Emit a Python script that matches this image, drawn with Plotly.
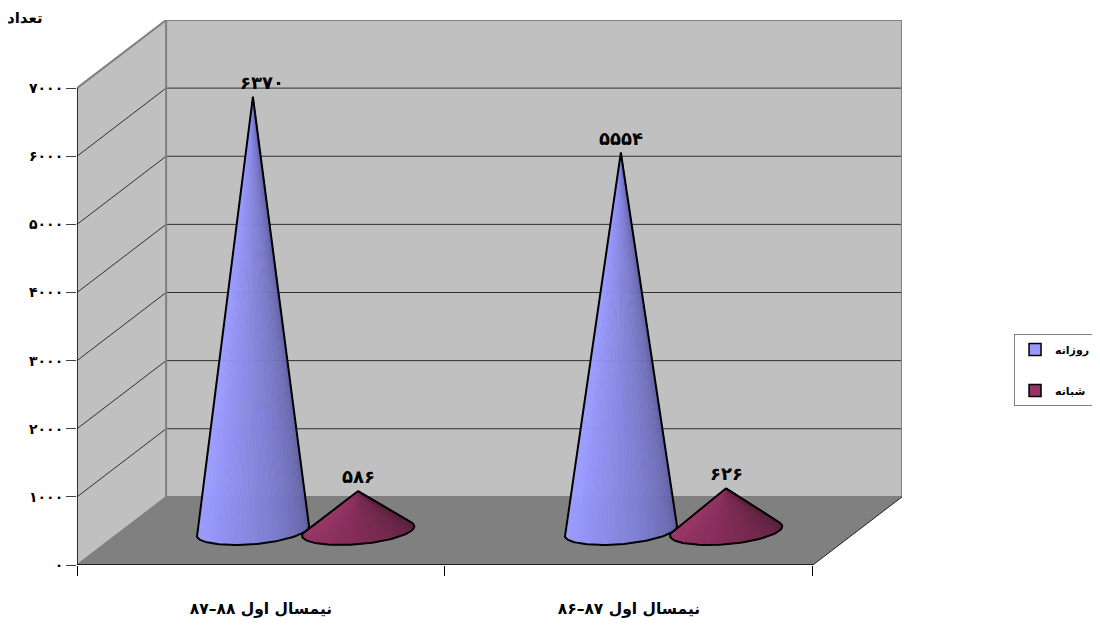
import math
import plotly.graph_objects as go

# ---- data ----
categories = ["نیمسال اول ۸۸–۸۷", "نیمسال اول ۸۷–۸۶"]
day_name = "روزانه"
night_name = "شبانه"
day_values = [6370, 5554]
night_values = [586, 626]
y_ticks = [0, 1000, 2000, 3000, 4000, 5000, 6000, 7000]
y_title = "تعداد"

FA = str.maketrans("0123456789", "۰۱۲۳۴۵۶۷۸۹")
def fa(n):
    return str(n).translate(FA)

# ---- oblique 3-D projection expressed in axis units ----
DX, DY = 0.2422, 1000.0     # shift of the back wall relative to the front
NCAT = len(categories)
VMAX = y_ticks[-1]
R_X, R_D = 0.1442, 0.206    # cone base radius (category units / depth fraction)
OFFSET = 0.1430             # distance of a cone from the category centre
FONT = "DejaVu Sans"

def proj(c, v, d):
    return c + d * DX, v + d * DY

fig = go.Figure()

def poly(pts, fill=None, line=None, width=0, close=True):
    xs = [p[0] for p in pts]
    ys = [p[1] for p in pts]
    if close:
        xs.append(xs[0]); ys.append(ys[0])
    fig.add_trace(go.Scatter(
        x=xs, y=ys, mode="lines", cliponaxis=False, showlegend=False, hoverinfo="skip",
        fill="toself" if fill else "none", fillcolor=fill,
        line=dict(color=line or "rgba(0,0,0,0)", width=width, shape="linear"),
    ))

WALL, FLOOR, EDGE = "#C0C0C0", "#808080", "#808080"
# side wall, back wall, floor
poly([proj(0, 0, 0), proj(0, VMAX, 0), proj(0, VMAX, 1), proj(0, 0, 1)], WALL)
poly([proj(0, 0, 1), proj(0, VMAX, 1), proj(NCAT, VMAX, 1), proj(NCAT, 0, 1)], WALL)
poly([proj(0, 0, 0), proj(0, 0, 1), proj(NCAT, 0, 1), proj(NCAT, 0, 0)], FLOOR)

# gridlines
for v in y_ticks[1:-1]:
    poly([proj(0, v, 0), proj(0, v, 1), proj(NCAT, v, 1)], line="#303030", width=1, close=False)

# frame edges
poly([proj(0, VMAX, 0), proj(0, VMAX, 1), proj(NCAT, VMAX, 1), proj(NCAT, 0, 1)], line=EDGE, width=2, close=False)
poly([proj(0, VMAX, 1), proj(0, 0, 1), proj(NCAT, 0, 1)], line=EDGE, width=2, close=False)
poly([proj(0, 0, 0), proj(0, 0, 1)], line=EDGE, width=1.5, close=False)
poly([proj(NCAT, 0, 0), proj(NCAT, 0, 1)], line="#202020", width=1, close=False)
# front axis lines
poly([proj(0, VMAX, 0), proj(0, 0, 0), proj(NCAT, 0, 0)], line="#000000", width=1.5, close=False)

def base_pt(cx, t):
    d = 0.5 + R_D * math.sin(t)
    return proj(cx + R_X * math.cos(t), 0, d)

def visible_arc(cx, value):
    """Angles of the base ellipse seen from the apex, walking from left to right through the front."""
    ax, ay = proj(cx, value, 0.5)
    def s(t):
        px, py = base_pt(cx, t)
        tx = -R_X * math.sin(t) + DX * R_D * math.cos(t)
        ty = DY * R_D * math.cos(t)
        return (px - ax) * ty - (py - ay) * tx
    step = math.radians(1)
    front = -math.pi / 2
    sign = s(front) > 0
    lo = front
    while (s(lo - step) > 0) == sign:
        lo -= step
    hi = front
    while (s(hi + step) > 0) == sign:
        hi += step
    return lo, hi

def shade(rgb, u, dark):
    f = 1.05 - (1.05 - dark) * u ** 1.4
    return "rgb(%d,%d,%d)" % tuple(min(255, round(c * f)) for c in rgb)

def cone(cx, value, rgb, dark):
    apex = proj(cx, value, 0.5)
    lo, hi = visible_arc(cx, value)
    n = 60
    ts = [lo + (hi - lo) * i / n for i in range(n + 1)]
    pts = [base_pt(cx, t) for t in ts]
    for i in range(n):
        u = (i + 0.5) / n
        c = shade(rgb, u, dark)
        poly([apex, pts[i], pts[i + 1]], fill=c, line=c, width=0.5)
    poly([apex] + pts, line="#000000", width=2)

DAY_RGB, NIGHT_RGB = (153, 153, 255), (153, 51, 102)
label_shift = {6370: 9}
annotations = []
for i in range(NCAT):
    centre = i + 0.5
    for cx, value, rgb, dark in (
        (centre - OFFSET, day_values[i], DAY_RGB, 0.60),
        (centre + OFFSET, night_values[i], NIGHT_RGB, 0.52),
    ):
        cone(cx, value, rgb, dark)
        ax, ay = proj(cx, value, 0.5)
        annotations.append(dict(
            x=ax, y=ay, text=fa(value), showarrow=False, xanchor="center", yanchor="bottom",
            xshift=label_shift.get(value, 0), yshift=2,
            font=dict(family=FONT, size=18, color="#000000", weight="bold"),
        ))

annotations.append(dict(
    xref="paper", yref="paper", x=-0.063, y=1.0037, text=y_title, showarrow=False,
    xanchor="center", yanchor="middle",
    font=dict(family=FONT, size=15, color="#000000", weight="bold"),
))

# legend entries
for name, rgb in ((day_name, DAY_RGB), (night_name, NIGHT_RGB)):
    fig.add_trace(go.Scatter(
        x=[None], y=[None], mode="markers", name=name, legendgroup=name,
        marker=dict(symbol="square", size=12, color="rgb(%d,%d,%d)" % rgb,
                    line=dict(color="#000000", width=1.5)),
    ))

# the page adds an 8 px body margin on the left and top
fig.update_layout(
    width=1104, height=619, autosize=False,
    margin=dict(l=69, r=210, t=12, b=62, autoexpand=False),
    paper_bgcolor="#FFFFFF", plot_bgcolor="rgba(0,0,0,0)",
    showlegend=True,
    annotations=annotations,
    legend=dict(
        x=1.1358, y=0.4239, xanchor="left", yanchor="top", yref="paper",
        bordercolor="#808080", borderwidth=1, bgcolor="#FFFFFF",
        traceorder="grouped", tracegroupgap=22, itemclick=False, itemdoubleclick=False,
        font=dict(family=FONT, size=11, color="#000000", weight="bold"),
    ),
    xaxis=dict(
        range=[0, NCAT + DX], showgrid=False, zeroline=False, showline=False,
        tickmode="array", tickvals=[i + 0.5 for i in range(NCAT)], ticktext=categories,
        ticks="", ticklabelstandoff=32,
        tickfont=dict(family=FONT, size=15.5, color="#000000", weight="bold"),
        minor=dict(tickmode="array", tickvals=list(range(NCAT + 1)), ticks="outside",
                   ticklen=10, tickwidth=1, tickcolor="#000000", showgrid=False),
    ),
    yaxis=dict(
        range=[0, VMAX + DY], showgrid=False, zeroline=False, showline=False,
        tickmode="array", tickvals=y_ticks, ticktext=[fa(v) for v in y_ticks],
        ticks="outside", ticklen=10, tickwidth=1, tickcolor="#404040",
        tickfont=dict(family=FONT, size=14, color="#000000", weight="bold"),
    ),
)
fig.write_html("out.html")
